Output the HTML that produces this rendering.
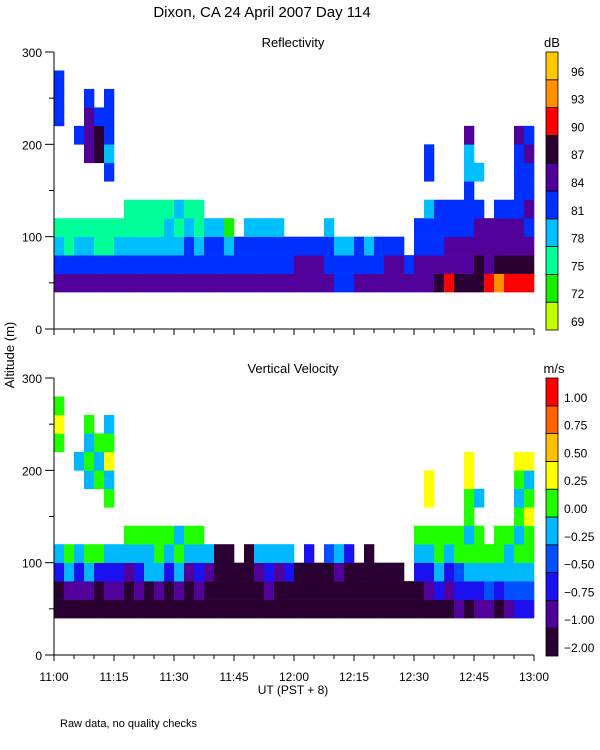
<!DOCTYPE html>
<html><head><meta charset="utf-8">
<style>
html,body{margin:0;padding:0;background:#fff;}
svg{display:block;font-family:"Liberation Sans",sans-serif;}
</style></head>
<body>
<svg id="chart" width="600" height="750" viewBox="0 0 600 750">
  <text x="262" y="17" text-anchor="middle" font-size="15">Dixon, CA 24 April 2007  Day 114</text>
  <text x="293" y="47" text-anchor="middle" font-size="13">Reflectivity</text>
  <text x="293" y="373" text-anchor="middle" font-size="13">Vertical Velocity</text>
  <text x="552" y="47" text-anchor="middle" font-size="13">dB</text>
  <text x="554" y="373" text-anchor="middle" font-size="13">m/s</text>
  <text transform="translate(14,355) rotate(-90)" text-anchor="middle" font-size="13">Altitude (m)</text>
  <text x="293" y="694" text-anchor="middle" font-size="12">UT  (PST + 8)</text>
  <text x="60" y="727" font-size="11">Raw data, no quality checks</text>
  <g id="layer"></g>
</svg>
<script>
const timeBins = 48; // 2.5 min bins from 11:00
const gateAlts = [40,60,80,100,120,140,160,180,200,220,240,260,280];
const reflData = [
"5432.....444.","5422.........","5432....4....","5432...5554..","5422...664...","5422..43444..",
"5432.........","54322........","54322........","54322........","54322........","54332........",
"54323........","54432........","54322........","5443.........","5443.........","5431.........",
"544..........","5443.........","5443.........","5443.........","5443.........","544..........",
"554..........","554..........","554..........","5443.........","443..........","443..........",
"544..........","543..........","544..........","554..........","554..........","54...........",
"5544.........","55443.44.....","65444........","75544........","65544........","655444335....",
"66554.3......","7555.........","86554........","76554........","765544445....","765454454...."];
const velData = [
"0024.....565.","0145.........","0124....4....","0145...4545..","0025...545...","0124..54654..",
"0124.........","00145........","01245........","00445........","01455........","00245........",
"01454........","00145........","01245........","0014.........","0000.........","0000.........",
"000..........","0000.........","0014.........","0124.........","0014.........","0024.........",
"000..........","0002.........","000..........","0003.........","0014.........","0002.........",
"000..........","0000.........","000..........","000..........","000..........","00...........",
"00245........","01245.66.....","02455........","01245........","12355........","024545566....",
"12455.4......","1345.........","02455........","13445........","234545456....","234556546...."];
const reflColors = ["#c0ff00","#18ee00","#00ff99","#00bfff","#0030ff","#52009a","#2a0032","#ff0000","#ff9000","#ffc800"];
const velColors = ["#2a0032","#52009a","#1a10f0","#0050ff","#00b8ff","#20ff00","#ffff00","#ffc000","#ff6000","#ff0000"];
const reflLabels = ["69","72","75","78","81","84","87","90","93","96"];
const velLabels = ["\u22122.00","\u22121.00","\u22120.75","\u22120.50","\u22120.25","0.00","0.25","0.50","0.75","1.00"];
const yTicks = [0,100,200,300];
const xTickLabels = ["11:00","11:15","11:30","11:45","12:00","12:15","12:30","12:45","13:00"];

const NS="http://www.w3.org/2000/svg";
const layer=document.getElementById('layer');
const X0=54,X1=534,TOTAL=120;
const xScale=m=>X0+(X1-X0)*m/TOTAL;
function mk(tag,attrs){const e=document.createElementNS(NS,tag);for(const k in attrs)e.setAttribute(k,attrs[k]);layer.appendChild(e);return e;}

function panel(top,bottom,data,colors,labels,prefix,lblX){
  const yScale=a=>bottom-(bottom-top)*a/300;
  const g=document.createElementNS(NS,'g');
  
  
  layer.appendChild(g);
  const bw=TOTAL/timeBins;
  data.forEach((s,i)=>{
    for(let j=0;j<s.length&&j<gateAlts.length;j++){
      const c=s[j]; if(c==='.')continue;
      const r=document.createElementNS(NS,'rect');
      const x0=xScale(i*bw),x1=xScale((i+1)*bw);
      const y0=yScale(gateAlts[j]+20),y1=yScale(gateAlts[j]);
      r.setAttribute('x',x0);r.setAttribute('y',y0);
      r.setAttribute('width',x1-x0+0.3);r.setAttribute('height',y1-y0+0.3);
      r.setAttribute('fill',colors[+c]);
      
      
      g.appendChild(r);
    }
  });
  const ax=mk('path',{d:`M${X0},${top} V${bottom} H${X1}`,stroke:'#000',fill:'none','stroke-width':1});
  
  
  for(let a=0;a<=300;a+=50){
    const y=yScale(a);
    const t=mk('line',{x1:a%100===0?X0-9:X0-5,x2:X0,y1:y,y2:y,stroke:'#000'});
    
    
  }
  yTicks.forEach(v=>{
    const t=mk('text',{x:X0-12,y:yScale(v)+5,'text-anchor':'end','font-size':12});
    t.textContent=v;
    
    
  });
  for(let m=0;m<=120;m+=5){
    const x=xScale(m);
    const t=mk('line',{x1:x,x2:x,y1:bottom,y2:bottom+(m%15===0?6:4),stroke:'#000'});
    
    
  }
  const cb0=top,cb1=bottom+1,bh=(cb1-cb0)/10;
  colors.forEach((col,k)=>{
    const y=cb1-(k+1)*bh;
    const r=mk('rect',{x:546,y:y,width:12,height:bh,fill:col,stroke:'#000','stroke-width':0.8});
    
    
    const t=mk('text',{x:lblX,y:cb1-k*bh-4,'font-size':12});
    t.textContent=labels[k];
    
    
  });
  return yScale;
}
panel(52,329,reflData,reflColors,reflLabels,'reflectivity',571);
panel(378,655,velData,velColors,velLabels,'velocity',564);
xTickLabels.forEach((l,i)=>{
  const t=mk('text',{x:xScale(i*15),y:681,'text-anchor':'middle','font-size':12});
  t.textContent=l;
  
  
});
</script>
</body></html>
